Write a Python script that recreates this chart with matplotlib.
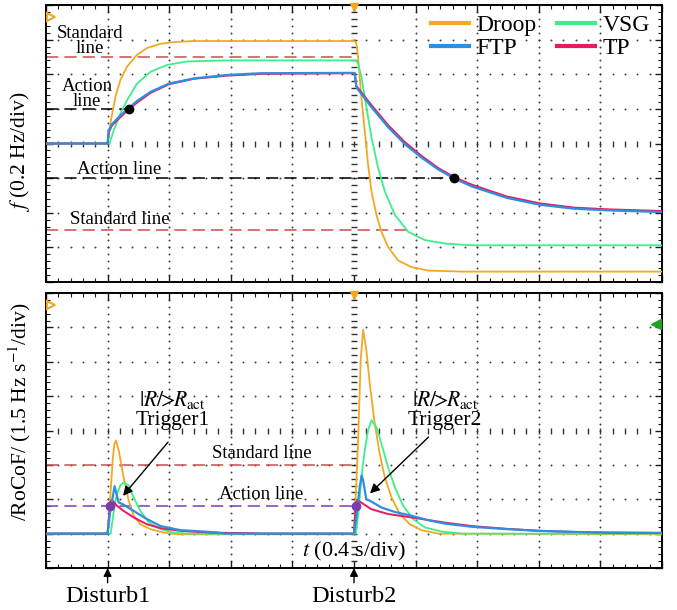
import numpy as np
import matplotlib.pyplot as plt

plt.rcParams['font.family'] = 'Liberation Serif'
plt.rcParams['mathtext.fontset'] = 'stix'

# ---- frequency panel (divisions: 0.4 s/div, 0.2 Hz/div) ----
f_t_droop = [0, 1.0, 1.043, 1.125, 1.207, 1.315, 1.478, 1.641, 1.859, 2.076, 2.4,
             5.011, 5.038, 5.065, 5.12, 5.174, 5.228, 5.283, 5.364, 5.446, 5.554,
             5.717, 5.935, 6.207, 6.75, 10.0]
f_droop = [4.0, 4.0, 4.56, 5.34, 5.83, 6.22, 6.56, 6.76, 6.88, 6.93, 6.96,
           6.96, 6.90, 6.51, 5.34, 4.37, 3.40, 2.62, 1.94, 1.45, 1.01,
           0.62, 0.43, 0.33, 0.30, 0.30]

f_t_vsg = [0, 1.03, 1.098, 1.207, 1.315, 1.478, 1.696, 1.967, 2.293, 2.946,
           5.03, 5.065, 5.12, 5.201, 5.283, 5.391, 5.5, 5.663, 5.88, 6.152,
           6.478, 6.913, 10.0]
f_vsg = [4.0, 4.0, 4.37, 4.86, 5.25, 5.73, 6.07, 6.27, 6.37, 6.40,
         6.40, 6.32, 5.93, 5.05, 4.18, 3.30, 2.62, 1.94, 1.45, 1.21,
         1.11, 1.06, 1.06]

f_t_ftp = [0, 1.0, 1.016, 1.071, 1.207, 1.315, 1.478, 1.696, 1.995, 2.402, 2.946,
           3.489, 5.011, 5.038, 5.065, 5.283, 5.554, 5.826, 6.098, 6.37, 6.625,
           6.913, 7.48, 8.02, 8.56, 9.10, 10.0]
f_ftp = [4.0, 4.0, 4.37, 4.56, 4.81, 4.98, 5.23, 5.49, 5.73, 5.88, 5.98,
         6.03, 6.04, 5.64, 5.56, 5.05, 4.47, 3.98, 3.59, 3.25, 2.99,
         2.76, 2.43, 2.23, 2.12, 2.07, 2.02]

f_t_tp = [0, 1.0, 1.02, 1.071, 1.207, 1.315, 1.478, 1.696, 1.995, 2.402, 2.946,
          3.489, 5.011, 5.038, 5.065, 5.283, 5.554, 5.826, 6.098, 6.37, 6.625,
          6.913, 7.48, 8.02, 8.56, 9.10, 10.0]
f_tp = [4.0, 4.0, 4.33, 4.52, 4.76, 4.94, 5.18, 5.46, 5.71, 5.87, 5.96,
        6.01, 6.03, 5.66, 5.60, 5.11, 4.53, 4.04, 3.64, 3.29, 3.03,
        2.81, 2.47, 2.27, 2.15, 2.10, 2.05]

# ---- RoCoF panel (1.5 Hz/s per div) ----
r_t_droop = [0, 1.0, 1.043, 1.082, 1.109, 1.136, 1.18, 1.26, 1.342, 1.424, 1.533,
             1.696, 1.913, 2.13, 5.0, 5.065, 5.109, 5.147, 5.2, 5.255, 5.337,
             5.418, 5.5, 5.609, 5.745, 5.908, 6.098, 6.37, 10.0]
r_droop = [0.98, 0.98, 2.05, 3.13, 3.61, 3.71, 3.42, 2.64, 1.96, 1.52, 1.27,
           1.13, 1.03, 0.98, 0.98, 3.61, 6.05, 6.93, 6.35, 5.37, 4.20,
           3.32, 2.64, 2.05, 1.57, 1.27, 1.10, 1.0, 0.98]

r_t_vsg = [0, 1.05, 1.071, 1.109, 1.152, 1.207, 1.261, 1.342, 1.424, 1.533, 1.668,
           1.859, 2.076, 2.3, 5.03, 5.076, 5.12, 5.174, 5.228, 5.283, 5.364,
           5.446, 5.554, 5.663, 5.799, 5.962, 6.152, 6.424, 6.75, 10.0]
r_vsg = [1.0, 1.0, 1.27, 1.76, 2.15, 2.40, 2.49, 2.40, 2.05, 1.66, 1.32,
         1.13, 1.03, 1.0, 1.0, 1.66, 2.64, 3.42, 4.0, 4.30, 4.10,
         3.61, 2.93, 2.35, 1.81, 1.42, 1.18, 1.06, 1.0, 1.0]

r_t_ftp = [0, 1.0, 1.043, 1.082, 1.114, 1.152, 1.18, 1.261, 1.424, 1.641, 1.859,
           2.185, 2.565, 2.78, 2.9, 5.0, 5.038, 5.092, 5.125, 5.147, 5.2,
           5.255, 5.446, 5.663, 5.935, 6.207, 6.478, 6.913, 7.48, 8.02, 8.56,
           9.1, 10.0]
r_ftp = [1.0, 1.0, 1.66, 2.05, 2.38, 2.10, 1.91, 1.84, 1.66, 1.42, 1.22,
         1.10, 1.06, 1.03, 1.0, 1.0, 1.47, 2.35, 2.69, 2.55, 2.0,
         1.96, 1.76, 1.63, 1.52, 1.39, 1.29, 1.20, 1.13, 1.08, 1.05,
         1.03, 1.02]

r_t_tp = [0, 1.0, 1.043, 1.071, 1.152, 1.261, 1.424, 1.641, 1.859, 2.185, 2.674,
          3.38, 3.5, 5.0, 5.03, 5.06, 5.283, 5.554, 5.935, 6.478, 6.913,
          7.48, 8.02, 8.56, 9.1, 10.0]
r_tp = [1.0, 1.0, 1.91, 1.98, 1.81, 1.66, 1.47, 1.27, 1.16, 1.08, 1.03,
        1.01, 1.0, 1.0, 1.91, 1.97, 1.71, 1.57, 1.47, 1.32, 1.22,
        1.14, 1.08, 1.05, 1.03, 1.02]

# reference levels (div)
f_standard = [6.5, 1.5]
f_action = [5.0, 3.0]
r_standard = 3.0
r_action = 1.8

c_droop = '#F2A922'
c_vsg = '#3CEF8C'
c_ftp = '#2E8EE0'
c_tp = '#E8195C'
c_std = '#C8504A'
c_act_r = '#7A3DB0'


def scope_grid(ax):
    ax.set_xlim(0, 10)
    ax.set_ylim(0, 8)
    ax.set_xticks(np.arange(0, 11))
    ax.set_yticks(np.arange(0, 9))
    ax.set_xticks(np.arange(0, 10.01, 0.2), minor=True)
    ax.set_yticks(np.arange(0, 8.01, 0.2), minor=True)
    ax.tick_params(which='both', direction='in', top=True, right=True,
                   labelbottom=False, labelleft=False, color='0.1')
    ax.tick_params(which='major', length=5, width=1)
    ax.tick_params(which='minor', length=3, width=0.8)
    for sp in ax.spines.values():
        sp.set_linewidth(1.4)
    fx = np.arange(0.2, 10, 0.2)
    fy = np.arange(0.2, 8, 0.2)
    for gx in range(1, 10):
        if gx != 5:
            ax.plot(np.full_like(fy, gx), fy, ls='none', marker='o', ms=1.4,
                    mew=0, color='0.25', zorder=1)
    for gy in range(1, 8):
        if gy != 4:
            ax.plot(fx, np.full_like(fx, gy), ls='none', marker='o', ms=1.4,
                    mew=0, color='0.25', zorder=1)
    ax.plot(np.full_like(fy, 5), fy, ls='none', marker='_', ms=5, mew=1,
            color='0.2', zorder=1)
    ax.plot(fx, np.full_like(fx, 4), ls='none', marker='|', ms=5, mew=1,
            color='0.2', zorder=1)
    ax.plot([5], [7.93], marker='v', ms=6, color='#F5A623', clip_on=False, zorder=6)
    ax.plot([0.08], [7.65], marker='>', ms=6, mfc='white', mec='#F5A623', mew=1.5,
            clip_on=False, zorder=6)


fig = plt.figure(figsize=(6.77, 6.10), dpi=100)
ax1 = fig.add_axes([46 / 677, 1 - 282 / 610, 616 / 677, 277 / 610])
ax2 = fig.add_axes([46 / 677, 1 - 568 / 610, 616 / 677, 275 / 610])
scope_grid(ax1)
scope_grid(ax2)

dash = (0, (8, 4))
ltxt = 13.5

# ---- top panel ----
ax1.plot([0, 5.06], [f_standard[0]] * 2, ls=dash, color=c_std, lw=1.1, zorder=2)
ax1.plot([0, 5.88], [f_standard[1]] * 2, ls=dash, color=c_std, lw=1.1, zorder=2)
ax1.plot([0, 1.34], [f_action[0]] * 2, ls=dash, color='black', lw=1.1, zorder=2)
ax1.plot([0, 6.625], [f_action[1]] * 2, ls=dash, color='black', lw=1.1, zorder=2)

l_droop, = ax1.plot(f_t_droop, f_droop, color=c_droop, lw=1.3, label='Droop', zorder=3)
l_vsg, = ax1.plot(f_t_vsg, f_vsg, color=c_vsg, lw=1.3, label='VSG', zorder=3)
l_tp, = ax1.plot(f_t_tp, f_tp, color=c_tp, lw=1.4, label='TP', zorder=3)
l_ftp, = ax1.plot(f_t_ftp, f_ftp, color=c_ftp, lw=1.6, label='FTP', zorder=3)

ax1.plot([1.342, 6.625], [f_action[0], f_action[1]], ls='none', marker='o', ms=6,
         color='black', zorder=5)

ax1.text(0.71, 6.96, 'Standard\nline', ha='center', va='center', fontsize=ltxt,
         linespacing=0.85)
ax1.text(0.67, 5.42, 'Action\nline', ha='center', va='center', fontsize=ltxt,
         linespacing=0.85)
ax1.text(1.18, 3.25, 'Action line', ha='center', va='center', fontsize=ltxt)
ax1.text(1.2, 1.8, 'Standard line', ha='center', va='center', fontsize=ltxt)

leg = ax1.legend(handles=[l_droop, l_ftp, l_vsg, l_tp], ncol=2, frameon=False,
                 loc='upper right', bbox_to_anchor=(0.985, 0.975), fontsize=17,
                 handlelength=1.6, handletextpad=0.35, columnspacing=0.85,
                 labelspacing=0.08, borderaxespad=0.0, borderpad=0.1)
for h in leg.legend_handles:
    h.set_linewidth(3)

fig.text(20 / 677, 1 - 152 / 610, '$f$ (0.2 Hz/div)', rotation=90, ha='center',
         va='center', fontsize=15.5)

# ---- bottom panel ----
ax2.plot([0, 5.0], [r_standard] * 2, ls=dash, color=c_std, lw=1.1, zorder=2)
ax2.plot([0, 5.04], [r_action] * 2, ls=dash, color=c_act_r, lw=1.1, zorder=2)

ax2.plot(r_t_droop, r_droop, color=c_droop, lw=1.3, zorder=3)
ax2.plot(r_t_vsg, r_vsg, color=c_vsg, lw=1.3, zorder=3)
ax2.plot(r_t_tp, r_tp, color=c_tp, lw=1.4, zorder=3)
ax2.plot(r_t_ftp, r_ftp, color=c_ftp, lw=1.6, zorder=3)

ax2.plot([1.04, 5.04], [r_action, r_action], ls='none', marker='o', ms=6,
         color=c_act_r, zorder=5)
ax2.plot([9.9], [7.1], marker='<', ms=7, color='#1FA22A', clip_on=False, zorder=6)

ax2.text(3.51, 3.33, 'Standard line', ha='center', va='center', fontsize=ltxt)
ax2.text(3.49, 2.13, 'Action line', ha='center', va='center', fontsize=ltxt)
ax2.text(5.0, 0.49, '$t$ (0.4 s/div)', ha='center', va='center', fontsize=16)

trig = r'$|R/\!\!>\!\!R_{\mathrm{act}}$'
ax2.text(2.05, 4.6, trig + '\nTrigger1', ha='center', va='center', fontsize=15.5,
         linespacing=1.0)
ax2.text(6.48, 4.6, trig + '\nTrigger2', ha='center', va='center', fontsize=15.5,
         linespacing=1.0)
ax2.annotate('', xy=(1.25, 2.10), xytext=(1.98, 3.66),
             arrowprops=dict(arrowstyle='-|>', color='black', lw=1,
                             mutation_scale=14, shrinkA=0, shrinkB=0))
ax2.annotate('', xy=(5.26, 2.17), xytext=(6.21, 3.81),
             arrowprops=dict(arrowstyle='-|>', color='black', lw=1,
                             mutation_scale=14, shrinkA=0, shrinkB=0))

for xd, lab in [(1, 'Disturb1'), (5, 'Disturb2')]:
    ax2.annotate(lab, xy=(xd, 0), xycoords=('data', 'axes fraction'),
                 xytext=(xd, -0.102), textcoords=('data', 'axes fraction'),
                 ha='center', va='center', fontsize=17.5, annotation_clip=False,
                 arrowprops=dict(arrowstyle='-|>', color='black', lw=1,
                                 mutation_scale=12, shrinkA=0, shrinkB=0))

fig.text(20 / 677, 1 - 412 / 610, '/RoCoF/ (1.5 Hz s$^{-1}$/div)', rotation=90,
         ha='center', va='center', fontsize=15.5)

fig.savefig('out.png', dpi=100)
